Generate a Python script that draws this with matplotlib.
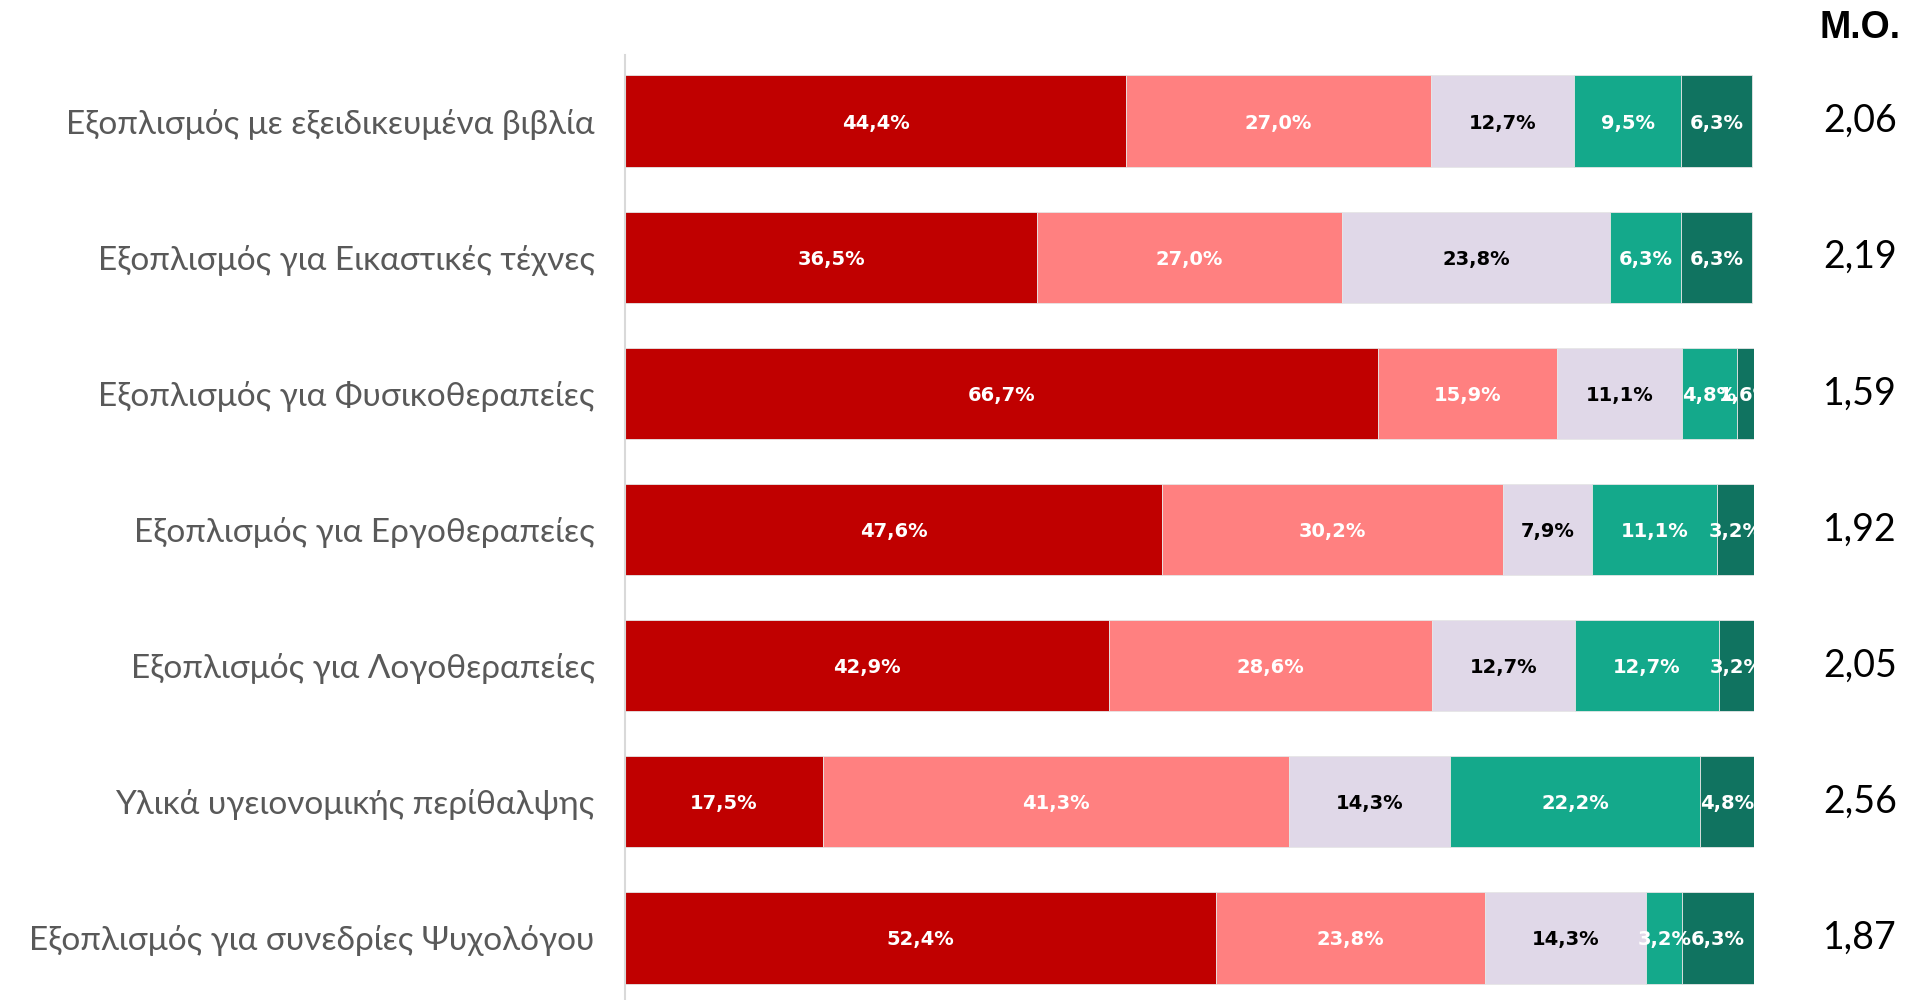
import matplotlib.pyplot as plt
import matplotlib.transforms as mtransforms
import numpy as np

categories = [
    "Εξοπλισμός με εξειδικευμένα βιβλία",
    "Εξοπλισμός για Εικαστικές τέχνες",
    "Εξοπλισμός για Φυσικοθεραπείες",
    "Εξοπλισμός για Εργοθεραπείες",
    "Εξοπλισμός για Λογοθεραπείες",
    "Υλικά υγειονομικής περίθαλψης",
    "Εξοπλισμός για συνεδρίες Ψυχολόγου",
]
# five answer levels, % per category
level1 = [44.4, 36.5, 66.7, 47.6, 42.9, 17.5, 52.4]
level2 = [27.0, 27.0, 15.9, 30.2, 28.6, 41.3, 23.8]
level3 = [12.7, 23.8, 11.1, 7.9, 12.7, 14.3, 14.3]
level4 = [9.5, 6.3, 4.8, 11.1, 12.7, 22.2, 3.2]
level5 = [6.3, 6.3, 1.6, 3.2, 3.2, 4.8, 6.3]
means = [2.06, 2.19, 1.59, 1.92, 2.05, 2.56, 1.87]

levels = [level1, level2, level3, level4, level5]
colors = ["#C00000", "#FF8080", "#E0D8E8", "#14A98B", "#107360"]
text_colors = ["white", "white", "black", "white", "white"]

fig = plt.figure(figsize=(19.06, 10.0), dpi=100)
ax = fig.add_axes([0.328, 0.0, 0.592, 0.945])

y = np.arange(len(categories))
left = np.zeros(len(categories))
for vals, col, tcol in zip(levels, colors, text_colors):
    vals = np.array(vals)
    bars = ax.barh(y, vals, left=left, height=0.67, color=col,
                   edgecolor="#E6E6E6", linewidth=0.6)
    for b, v in zip(bars, vals):
        ax.text(b.get_x() + b.get_width() / 2, b.get_y() + b.get_height() / 2,
                f"{v:.1f}%".replace(".", ","), ha="center", va="center_baseline",
                color=tcol, fontsize=14, fontweight="bold", family="DejaVu Sans",
                clip_on=True)
    left += vals

ax.set_xlim(0, 100)
ax.set_ylim(6.456, -0.485)
ax.set_yticks(y)
ax.set_yticklabels(categories, fontsize=24, color="#595959", family="Lato")
ax.tick_params(axis="y", length=0, pad=22)
ax.set_xticks([])
for s in ["top", "right", "bottom"]:
    ax.spines[s].set_visible(False)
ax.spines["left"].set_color("#D9D9D9")
ax.spines["left"].set_linewidth(1.5)

# mean column
trans = mtransforms.blended_transform_factory(fig.transFigure, ax.transData)
for yi, m in zip(y, means):
    ax.text(0.9758, yi, f"{m:.2f}".replace(".", ","), transform=trans,
            ha="center", va="center", fontsize=27, family="Lato",
            color="black")
fig.text(0.976, 0.972, "Μ.Ο.", ha="center", va="center", fontsize=27,
         fontweight="bold", family="Liberation Sans", color="black")

fig.savefig("out.png", dpi=100)
